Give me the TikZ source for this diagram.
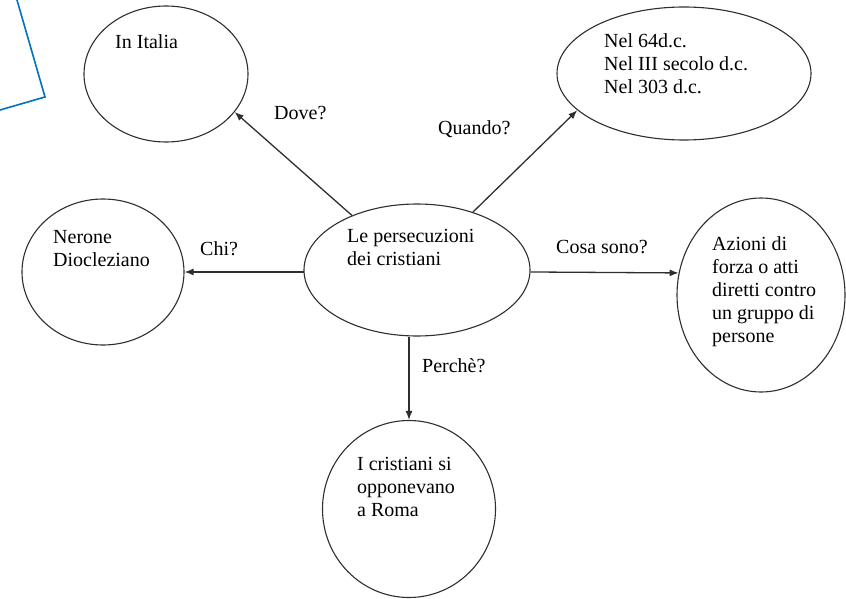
\documentclass[tikz,border=0pt]{standalone}
\usepackage{fontspec}
\setmainfont{Liberation Serif}
\usetikzlibrary{arrows.meta,shapes.geometric}
\definecolor{edgegray}{HTML}{2E2E2E}
\definecolor{noteblue}{HTML}{0070C0}
% left-aligned block whose baseline is that of its first line
\newcommand{\textblock}[1]{\begin{tabular}[t]{@{}l@{}}#1\end{tabular}}
\begin{document}
\begin{tikzpicture}[x=1pt,y=-1pt,
  bubble/.style={draw=edgegray, line width=1.1pt, ellipse, inner sep=0pt},
  txt/.style={font=\fontsize{20}{23}\selectfont, anchor=base west, inner sep=0pt},
  lbl/.style={font=\fontsize{20}{23}\selectfont, anchor=base west, inner sep=0pt},
  link/.style={draw=edgegray, line width=1.3pt, -{Latex[length=9pt,width=7pt]}}
]
\useasboundingbox (0,0) rectangle (846,599);

% corner of a callout box
\draw[noteblue, line width=1.6pt] (17,0) -- (45,97) -- (0,110);

% bubbles
\node[bubble, minimum width=226pt, minimum height=132pt] (c) at (417,270) {};
\node[bubble, minimum width=164pt, minimum height=136pt] (it) at (166,74) {};
\node[bubble, minimum width=254pt, minimum height=133pt] (qd) at (684,73.5) {};
\node[bubble, minimum width=162pt, minimum height=146pt] (ch) at (103,272) {};
\node[bubble, minimum width=168pt, minimum height=194pt] (cs) at (761,295) {};
\node[bubble, minimum width=173pt, minimum height=177pt] (pq) at (409,509) {};

% texts
\node[txt] (tc) at (347,242) {\textblock{Le persecuzioni\\dei cristiani}};
\node[txt] (tit) at (115,49) {In Italia};
\node[txt] (tqd) at (604,48) {\textblock{Nel 64d.c.\\Nel III secolo d.c.\\Nel 303 d.c.}};
\node[txt] (tch) at (53,243) {\textblock{Nerone\\Diocleziano}};
\node[txt] (tcs) at (712,250) {\textblock{Azioni di\\forza o atti\\diretti contro\\un gruppo di\\persone}};
\node[txt] (tpq) at (357,470) {\textblock{I cristiani si\\opponevano\\a Roma}};

% connectors
\draw[link] (c.140) -- (it.-29);
\draw[link] (c.46) -- (qd.199);
\draw[link] (c.181) -- (c.181 -| ch.east);
\draw[link] (c.-1.5) -- (cs.165);
\draw[link] (c.south -| pq.north) -- (pq.north);

% connector labels
\node[lbl] (ldove) at (274,120) {Dove?};
\node[lbl] (lquando) at (438,135) {Quando?};
\node[lbl] (lchi) at (200,255) {Chi?};
\node[lbl] (lcosa) at (556,253) {Cosa sono?};
\node[lbl] (lperche) at (422,372) {Perchè?};
\end{tikzpicture}
\end{document}
